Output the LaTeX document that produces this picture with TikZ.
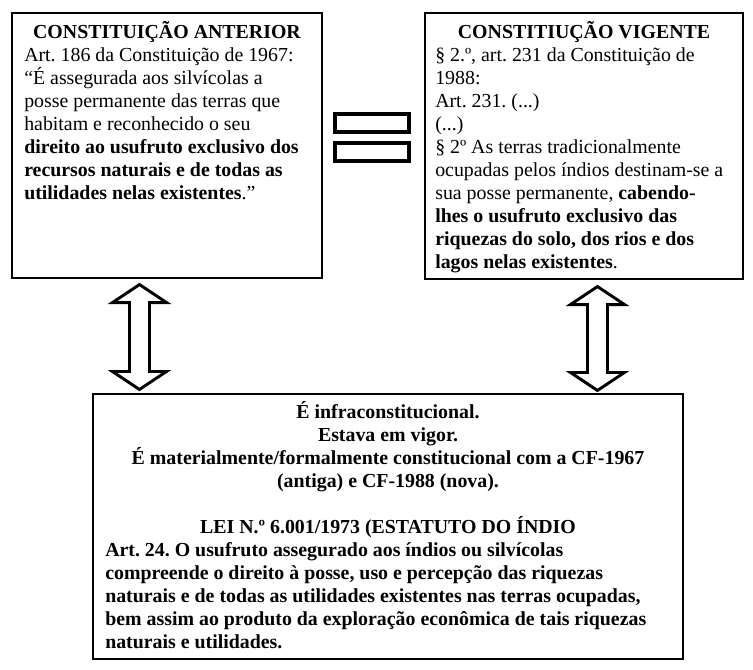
\documentclass[tikz,border=0pt]{standalone}
\usepackage{fontspec}
\setmainfont{Liberation Serif}
\usetikzlibrary{fit,calc}
\newcommand\dblarrow[2]{%
  \draw[dblarr] (#1) -- ($(#1)+(27,18)$) -- ($(#1)+(10,18)$) -- ($(#2)+(10,-18)$)
    -- ($(#2)+(27,-18)$) -- (#2) -- ($(#2)+(-27,-18)$) -- ($(#2)+(-10,-18)$)
    -- ($(#1)+(-10,18)$) -- ($(#1)+(-27,18)$) -- cycle;}
\begin{document}
\frenchspacing
\begin{tikzpicture}[x=0.75pt,y=-0.75pt,
  box/.style={draw, line width=0.8pt, inner sep=0pt},
  txt/.style={inner sep=0pt, align=left, anchor=base west,
    font=\fontsize{14.9pt}{17.25pt}\selectfont},
  ttl/.style={inner sep=0pt, align=center, anchor=base,
    font=\fontsize{14.9pt}{17.25pt}\selectfont\bfseries},
  eqbar/.style={draw, line width=3pt},
  dblarr/.style={draw, line width=2.2pt, line join=miter, fill=white}]
\useasboundingbox (0,0) rectangle (753,669);

% boxes
\node (L) [box, fit={(12,13) (322,278)}] {};
\node (R) [box, fit={(425,13) (743,279)}] {};
\node (B) [box, fit={(93,394) (683,659)}] {};

% left box (base anchor = baseline of the last line)
\node (Lh) [ttl] at (167,38) {CONSTITUIÇÃO ANTERIOR};
\node (Lt) [txt] at (24,199) {%
Art. 186 da Constituição de 1967:\\
“É assegurada aos silvícolas a\\
posse permanente das terras que\\
habitam e reconhecido o seu\\
\textbf{direito ao usufruto exclusivo dos}\\
\textbf{recursos naturais e de todas as}\\
\textbf{utilidades nelas existentes}.”};

% right box
\node (Rh) [ttl] at (584,38) {CONSTITIUÇÃO VIGENTE};
\node (Rt) [txt] at (435,268) {%
§ 2.º, art. 231 da Constituição de\\
1988:\\
Art. 231. (...)\\
(...)\\
§ 2º As terras tradicionalmente\\
ocupadas pelos índios destinam-se a\\
sua posse permanente, \textbf{cabendo-}\\
\textbf{lhes o usufruto exclusivo das}\\
\textbf{riquezas do solo, dos rios e dos}\\
\textbf{lagos nelas existentes}.};

% bottom box
\node (Bh) [ttl] at (388,533) {%
É infraconstitucional.\\
Estava em vigor.\\
É materialmente/formalmente constitucional com a CF-1967\\
(antiga) e CF-1988 (nova).\\
\mbox{}\\
LEI N.º 6.001/1973 (ESTATUTO DO ÍNDIO};
\node (Bt) [txt, font=\fontsize{14.9pt}{17.25pt}\selectfont\bfseries] at (105,648) {%
Art. 24. O usufruto assegurado aos índios ou silvícolas\\
compreende o direito à posse, uso e percepção das riquezas\\
naturais e de todas as utilidades existentes nas terras ocupadas,\\
bem assim ao produto da exploração econômica de tais riquezas\\
naturais e utilidades.};

% equals sign
\draw[eqbar] (335,114) rectangle (409,132);
\draw[eqbar] (335,143) rectangle (409,161);

% double arrows
\coordinate (la) at ($(L.south west)+(128,6)$);
\coordinate (lb) at ($(B.north west)+(47,-4)$);
\coordinate (ra) at ($(R.south west)+(173,7)$);
\coordinate (rb) at ($(B.north west)+(505,-3)$);
\dblarrow{la}{lb}
\dblarrow{ra}{rb}
\end{tikzpicture}
\end{document}
